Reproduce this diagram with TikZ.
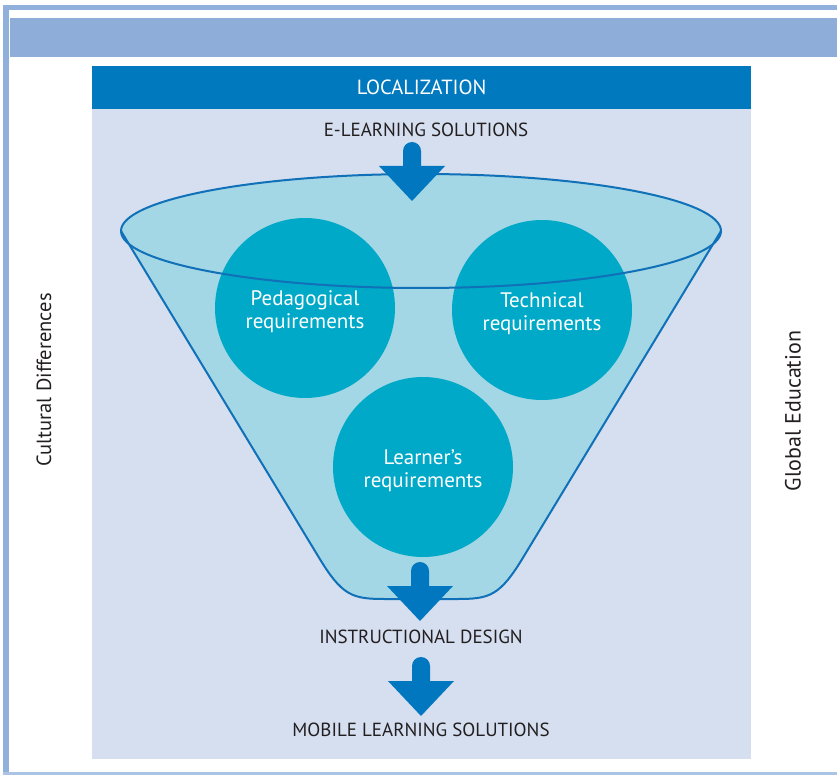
\documentclass[tikz,border=0pt]{standalone}
\usepackage{fontspec}
\setmainfont{PT Sans}
\definecolor{framecol}{HTML}{91B0DB}
\definecolor{bandcol}{HTML}{8EAED9}
\definecolor{panelcol}{HTML}{D5DFF0}
\definecolor{locblue}{HTML}{0079BF}
\definecolor{arrowblue}{HTML}{0077BE}
\definecolor{funnelfill}{HTML}{A3D7E5}
\definecolor{funnelline}{HTML}{1070B8}
\definecolor{circblue}{HTML}{00A9C7}
\definecolor{textdark}{HTML}{231F20}
\tikzset{
  captext/.style={text=textdark, inner sep=0pt, font=\fontsize{19}{22}\selectfont},
  sidetext/.style={text=textdark, inner sep=0pt, rotate=90},
  reqcircle/.style={circle, fill=circblue, minimum size=180pt, inner sep=0pt},
  reqtext/.style={text=white, align=center, inner sep=0pt, yshift=-4pt,
    font=\fontsize{21}{23}\selectfont},
  blockarrow/.pic={
    \fill[arrowblue] (-9,9) arc[start angle=180, end angle=0, radius=9pt]
      -- (9,24) -- (33,24) -- (0,59) -- (-33,24) -- (-9,24) -- cycle;
  }
}
\begin{document}
\begin{tikzpicture}[x=1pt,y=-1pt]
\useasboundingbox (0,0) rectangle (837,775);
\fill[white] (0,0) rectangle (837,775);
% outer frame and header band
\fill[framecol] (3,5) rectangle (837,10);
\fill[framecol] (3,5) rectangle (9,775);
\fill[framecol!75] (3,772) rectangle (837,775);
\fill[bandcol] (10,18) rectangle (837,57);
% main panel
\fill[panelcol] (92,109) rectangle (751,759);
\node[fill=locblue, minimum width=659pt, minimum height=43pt, inner sep=0pt,
  anchor=north west, text=white, font=\fontsize{20.5}{22}\selectfont] (loc) at (92,66) {LOCALIZATION};

% funnel body
\fill[funnelfill] (421,231) ellipse [x radius=300, y radius=57];
\fill[funnelfill] (121,231) -- (318,556) .. controls (342,596) and (352,599) .. (385,599)
  -- (457,599) .. controls (490,599) and (500,596) .. (524,556) -- (721,231) -- cycle;

% requirement circles
\node[reqcircle] (ped) at (305,308) {};
\node[reqcircle] (tech) at (542,310) {};
\node[reqcircle] (learn) at (423,467) {};
\node[reqtext] (pedtxt) at (ped.center) {Pedagogical\\requirements};
\node[reqtext] (techtxt) at (tech.center) {Technical\\requirements};
\node[reqtext] (learntxt) at (learn.center) {Learner’s\\requirements};

% funnel outline
\draw[funnelline, line width=2pt, line join=round]
  (121,231) -- (318,556) .. controls (342,596) and (352,599) .. (385,599)
  -- (457,599) .. controls (490,599) and (500,596) .. (524,556) -- (721,231);
\draw[funnelline, line width=2pt] (421,231) ellipse [x radius=300, y radius=57];

% flow labels
\node[captext] (elearn) at (426,130) {E-LEARNING SOLUTIONS};
\node[captext] (instr) at (421,637) {INSTRUCTIONAL DESIGN};
\node[captext] (mobile) at (421,730) {MOBILE LEARNING SOLUTIONS};

% block arrows
\pic at (412,142) {blockarrow};
\pic at (420,562) {blockarrow};
\pic at (421,657) {blockarrow};

% side captions
\node[sidetext, font=\fontsize{20.5}{24}\selectfont] (cult) at (44,380) {Cultural Differences};
\node[sidetext, font=\fontsize{22}{24}\selectfont] (glob) at (793,411) {Global Education};
\end{tikzpicture}
\end{document}
